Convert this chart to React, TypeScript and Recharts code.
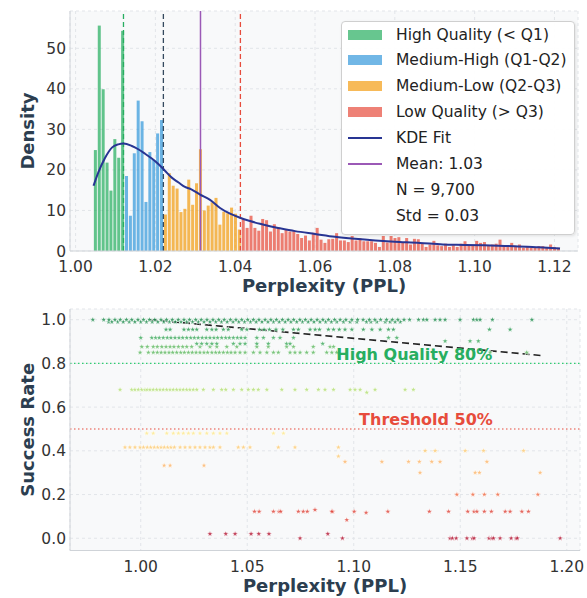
import React from 'react';
import {
  ComposedChart, Bar, Line, Scatter, XAxis, YAxis, CartesianGrid,
  ReferenceLine, ReferenceDot, Label,
} from 'recharts';

const FONT = "'Comic Sans MS', 'DejaVu Sans', sans-serif";
const TITLE_COLOR = '#2c3e50';

// ---------------- Histogram (top) ----------------
const BIN_FIRST = 1.00496;
const BIN_WIDTH = 0.000975;
const densityValues = [
  24.9, 55.6, 39.9, 21.8, 14.9, 27.6, 23.0, 54.3,
  18.5, 8.7, 24.1, 37.1, 32.0, 12.1, 24.4, 22.5, 29.0, 32.3,
  9.0, 19.2, 16.1, 15.4, 9.6, 10.4, 17.6, 11.4, 16.7, 25.1, 10.0, 11.2,
  12.0, 13.1, 6.5, 9.7, 9.3, 10.7, 9.2, 5.3,
  7.9, 5.7, 8.7, 5.7, 5.0, 7.9, 7.6, 4.8, 6.6, 5.9,
  4.4, 5.3, 4.8, 4.9, 4.2, 3.2, 3.8, 2.6, 4.5, 5.7, 2.8, 2.0, 2.9, 3.0,
  4.4, 2.6, 2.6, 2.2, 3.7, 2.6, 3.2, 2.4, 2.4, 2.4,
  2.0, 1.0, 3.7, 2.1, 3.7, 3.2, 3.4, 2.2, 3.2, 1.6, 3.0, 2.9, 1.8, 1.0,
  1.6, 2.5, 1.4, 1.2, 1.8, 1.0, 1.4, 1.0, 1.8, 2.4, 1.5,
  1.4, 2.5, 2.0, 2.2, 1.4, 1.6, 1.8, 2.8, 1.4, 1.0, 2.0, 1.0, 1.6, 0.8,
  1.0, 0.8, 1.0, 1.2, 1.2, 1.0, 1.6, 1.0, 0.8,
];
const quartileQ1 = 1.012;
const quartileMedian = 1.022;
const meanPPL = 1.0313;
const quartileQ3 = 1.0413;

const kdeX = [
  1.0045, 1.0057, 1.0074, 1.0091, 1.0107, 1.012, 1.0141, 1.0157, 1.0174, 1.0191,
  1.0208, 1.0224, 1.0241, 1.0258, 1.0274, 1.0290, 1.0312, 1.0337, 1.0362, 1.0387,
  1.0412, 1.0437, 1.0462, 1.0487, 1.0512, 1.055, 1.06, 1.065, 1.07, 1.0751,
  1.08, 1.0863, 1.092, 1.0976, 1.104, 1.1101, 1.116, 1.1214,
];
const kdeY = [
  16.1, 19.4, 23.0, 25.5, 26.3, 26.5, 25.9, 25.1, 24.0, 22.8,
  21.4, 19.8, 18.1, 16.9, 15.8, 15.2, 13.9, 12.6, 10.6, 9.2,
  8.2, 7.4, 6.7, 6.1, 5.6, 4.9, 4.2, 3.5, 3.0, 2.6,
  2.3, 2.0, 1.6, 1.5, 1.35, 1.2, 0.9, 0.6,
];
const histXTicks = [1.0, 1.02, 1.04, 1.06, 1.08, 1.1, 1.12];
const histYTicks = [0, 10, 20, 30, 40, 50];

const legendLabels = [
  'High Quality (< Q1)', 'Medium-High (Q1-Q2)', 'Medium-Low (Q2-Q3)', 'Low Quality (> Q3)',
  'KDE Fit', 'Mean: 1.03', 'N = 9,700', 'Std = 0.03',
];

// ---------------- Scatter (bottom) ----------------
const rate100 = [0.9775, 0.9826, 0.9851, 0.9879, 0.9904, 0.9933, 0.9958, 0.9987, 1.0013, 1.0041, 1.0066, 1.0095, 1.0121, 1.0148, 1.0176, 1.0203, 1.0229, 1.0258, 1.0284, 1.0311, 1.0339, 1.0366, 1.0392, 1.0421, 1.0447, 1.0474, 1.0502, 1.0529, 1.0555, 1.0584, 1.0611, 1.0637, 1.0665, 1.0692, 1.0718, 1.0747, 1.0773, 1.08, 1.0828, 1.0855, 1.0881, 1.091, 1.0936, 1.0963, 1.0991, 1.1018, 1.1044, 1.1073, 1.1099, 1.1126, 1.1154, 1.1181, 1.1207, 1.1236, 1.1262, 1.1304, 1.1327, 1.1343, 1.1382, 1.1405, 1.1429, 1.1499, 1.1562, 1.1578, 1.1593, 1.1651, 1.1836];
const rate099 = [0.9849, 0.9864, 0.9892, 0.9918, 0.9946, 0.9972, 1.0, 1.0027, 1.0054, 1.008, 1.0108, 1.0135, 1.0162, 1.0189, 1.0216, 1.0243, 1.027, 1.0297, 1.0325, 1.0352, 1.0379, 1.0406, 1.0433, 1.046, 1.0487, 1.0515, 1.0542, 1.0569, 1.0597, 1.0623, 1.065, 1.0678, 1.0705, 1.0732, 1.0759, 1.0786, 1.0813, 1.0841, 1.0868, 1.0895, 1.092, 1.0952, 1.0983, 1.1014, 1.106, 1.108, 1.1108, 1.1148, 1.1171, 1.1194, 1.1218];
const rate0955 = [1.0119, 1.0138, 1.0203, 1.0224, 1.0244, 1.0263, 1.031, 1.0334, 1.0354, 1.0388, 1.0411, 1.0474, 1.0498, 1.0557, 1.0579, 1.0604, 1.0635, 1.0667, 1.0717, 1.074, 1.0795, 1.0819, 1.0839, 1.0881, 1.0905, 1.0932, 1.0959, 1.0991, 1.1045, 1.1085, 1.1124, 1.1163, 1.1186, 1.1637, 1.1734];
const rate0917 = [1.0, 1.0052, 1.007, 1.0087, 1.0106, 1.0125, 1.0142, 1.0161, 1.018, 1.0197, 1.0216, 1.0235, 1.0252, 1.027, 1.0289, 1.0307, 1.0325, 1.0344, 1.0361, 1.038, 1.0399, 1.0416, 1.0435, 1.0454, 1.0471, 1.049, 1.0545, 1.0576, 1.0623, 1.0654, 1.0717, 1.1163, 1.1202];
const rate0902 = [1.1429, 1.1546, 1.1585];
const rate089 = [1.0263, 1.0286, 1.031, 1.0334, 1.0357, 1.0435, 1.0466, 1.049, 1.0545, 1.0599, 1.0685, 1.0701, 1.0854];
const rate0876 = [1.0005, 1.0031, 1.0059, 1.0078, 1.0099, 1.0119, 1.0138, 1.0156, 1.0177, 1.0197, 1.0216, 1.0239, 1.0278, 1.0325, 1.0357, 1.0404, 1.0451, 1.0545, 1.0599, 1.0685, 1.0717, 1.081, 1.0889, 1.0905];
const rate085 = [0.9997, 1.0036, 1.0059, 1.0078, 1.0096, 1.0114, 1.0133, 1.015, 1.0169, 1.0188, 1.0205, 1.0224, 1.0242, 1.026, 1.0278, 1.0297, 1.0314, 1.0334, 1.0352, 1.0369, 1.0388, 1.0407, 1.0424, 1.0443, 1.0466, 1.049, 1.0529, 1.056, 1.0592, 1.0623, 1.0646, 1.0701, 1.0724, 1.0748, 1.0779, 1.081, 1.0873, 1.0897, 1.092, 1.164, 1.1812];
const rate068 = [0.9903, 0.9958, 0.9973, 0.9989, 1.0005, 1.002, 1.0031, 1.0044, 1.0059, 1.0075, 1.0091, 1.0106, 1.0122, 1.0138, 1.0153, 1.0169, 1.0185, 1.02, 1.0216, 1.0231, 1.0247, 1.0263, 1.0294, 1.0341, 1.038, 1.0399, 1.0435, 1.0474, 1.0505, 1.0529, 1.0552, 1.0592, 1.0662, 1.0724, 1.0779, 1.0834, 1.0865, 1.0905, 1.0983, 1.1006, 1.103, 1.11, 1.1241, 1.128];
const rate0667 = [1.1061];
const rate048 = [1.0028, 1.0059, 1.0122, 1.0153, 1.0177, 1.02, 1.0224, 1.0247, 1.0278, 1.031, 1.0341, 1.0372, 1.0404, 1.0623, 1.067];
const rate0416 = [0.9926, 0.9949, 0.9973, 0.9997, 1.0013, 1.0031, 1.0047, 1.0064, 1.008, 1.0096, 1.0111, 1.0127, 1.0142, 1.0158, 1.0185, 1.0208, 1.0231, 1.0255, 1.0278, 1.0302, 1.0325, 1.0341, 1.0372, 1.0458, 1.0482, 1.0513, 1.0646, 1.0724, 1.0928];
const rate040 = [1.1335, 1.1382, 1.1523, 1.1609, 1.1797];
const rate0375 = [1.0928];
const rate035 = [1.0959, 1.1132, 1.1257, 1.1308, 1.1366, 1.1405, 1.1625];
const rate0333 = [1.011, 1.0138, 1.0297];
const rate030 = [1.1311, 1.157, 1.159, 1.1875];
const rate020 = [1.1484, 1.1559, 1.1613, 1.1676, 1.1864];
const rate013 = [1.0818];
const rate0122 = [1.0534, 1.0556, 1.0623, 1.0649, 1.0657, 1.074, 1.0763, 1.0782, 1.0901, 1.0897, 1.1002, 1.116, 1.1355, 1.1445, 1.1535, 1.1565, 1.1578, 1.1613, 1.1646, 1.1711, 1.1734, 1.1789, 1.182];
const rate0117 = [1.1058];
const rate0084 = [1.0967];
const rate002 = [1.0325, 1.0399, 1.0443, 1.0518, 1.0554, 1.0602, 1.0878];
const rate000 = [1.0748, 1.0947, 1.1452, 1.1463, 1.1481, 1.1531, 1.1557, 1.1565, 1.1635, 1.1648, 1.1656, 1.1687, 1.1739, 1.1762, 1.1768, 1.1969];

const scatterRows: [number, number[]][] = [
  [0.48, rate048], [0.416, rate0416], [0.40, rate040], [0.375, rate0375], [0.35, rate035],
  [0.333, rate0333], [0.30, rate030], [0.20, rate020], [0.13, rate013], [0.122, rate0122],
  [0.117, rate0117], [0.084, rate0084], [0.02, rate002], [0.0, rate000],
  [0.68, rate068], [0.667, rate0667],
  [0.85, rate085], [0.876, rate0876], [0.89, rate089], [0.902, rate0902], [0.917, rate0917],
  [0.955, rate0955], [0.99, rate099], [1.0, rate100],
];

const trendX = [1.0044, 1.1883];
const trendY = [1.0, 0.836];
const highQualityLine = 0.8;
const thresholdLine = 0.5;
const scatterXTicks = [1.0, 1.05, 1.1, 1.15, 1.2];
const scatterYTicks = [0, 0.2, 0.4, 0.6, 0.8, 1.0];

// ---------------- styles ----------------
const QUALITY_COLORS = ['#27ae60', '#3498db', '#f39c12', '#e74c3c'];

function rateColor(r: number): string {
  if (r >= 0.97) return '#1a8a4a';
  if (r >= 0.94) return '#25994f';
  if (r >= 0.88) return '#3aa85a';
  if (r >= 0.84) return '#5cb85f';
  if (r >= 0.6) return '#b3df72';
  if (r >= 0.45) return '#fde98f';
  if (r >= 0.37) return '#fdcb72';
  if (r >= 0.28) return '#fdb466';
  if (r >= 0.17) return '#f26d45';
  if (r >= 0.07) return '#e0453a';
  return '#b3122f';
}

function starPath(cx: number, cy: number, R: number) {
  const r = R * 0.42;
  let d = '';
  for (let i = 0; i < 10; i++) {
    const a = -Math.PI / 2 + (i * Math.PI) / 5;
    const rad = i % 2 === 0 ? R : r;
    d += (i === 0 ? 'M' : 'L') + (cx + rad * Math.cos(a)).toFixed(2) + ' ' + (cy + rad * Math.sin(a)).toFixed(2);
  }
  return d + 'Z';
}

const makeStar = (color: string) => (props: any) => {
  const { cx, cy } = props;
  if (cx == null || cy == null) return <g />;
  return (
    <path d={starPath(cx, cy, 3.0)} fill={color} fillOpacity={0.8} stroke="#ffffff" strokeOpacity={0.8} strokeWidth={0.6} />
  );
};

const histData = densityValues.map((v, i) => ({ x: BIN_FIRST + i * BIN_WIDTH, y: v }));
const kdeData = kdeX.map((x, i) => ({ x, y: kdeY[i] }));
const trendData = trendX.map((x, i) => ({ x, y: trendY[i] }));

function binColor(x: number) {
  if (x < quartileQ1) return QUALITY_COLORS[0];
  if (x < quartileMedian) return QUALITY_COLORS[1];
  if (x < quartileQ3) return QUALITY_COLORS[2];
  return QUALITY_COLORS[3];
}

// bar drawn centred on the bin position that Recharts computed
const HistBarShape = (props: any) => {
  const { x, y, width, height, payload } = props;
  if (x == null || y == null || !height) return <g />;
  const cx = x + (width || 0) / 2;
  const w = 3.0;
  return (
    <rect x={cx - w / 2} y={y} width={w} height={Math.max(height, 0)} fill={binColor(payload.x)} fillOpacity={0.72} />
  );
};

const tickStyle = { fontSize: 15.5, fill: '#333', fontFamily: FONT };

const xTitle = (text: string) => (props: any) => {
  const vb = props.viewBox || {};
  const cx = (vb.x ?? 70) + (vb.width ?? 508) / 2;
  const y = (vb.y ?? 251) + 41;
  return (
    <text x={cx} y={y} textAnchor="middle" fontSize={18} fontWeight="bold" fill={TITLE_COLOR} fontFamily={FONT}>
      {text}
    </text>
  );
};

const yTitle = (text: string) => (props: any) => {
  const vb = props.viewBox || {};
  const cx = (vb.x ?? 0) + 27;
  const cy = (vb.y ?? 0) + (vb.height ?? 0) / 2;
  return (
    <text x={cx} y={cy} transform={`rotate(-90 ${cx} ${cy})`} textAnchor="middle" dominantBaseline="central"
      fontSize={18} fontWeight="bold" fill={TITLE_COLOR} fontFamily={FONT}>
      {text}
    </text>
  );
};

function HistLegend() {
  const swatches: (null | { kind: 'patch' | 'line'; color: string; w: number })[] = [
    { kind: 'patch', color: QUALITY_COLORS[0], w: 10 },
    { kind: 'patch', color: QUALITY_COLORS[1], w: 10 },
    { kind: 'patch', color: QUALITY_COLORS[2], w: 10 },
    { kind: 'patch', color: QUALITY_COLORS[3], w: 10 },
    { kind: 'line', color: '#283593', w: 2 },
    { kind: 'line', color: '#9b59b6', w: 1.5 },
    null,
    null,
  ];
  return (
    <div style={{
      position: 'absolute', left: 341, top: 21, width: 234, height: 214, boxSizing: 'border-box',
      background: 'rgba(255,255,255,0.95)', border: '1px solid #cfcfcf', borderRadius: 4,
      boxShadow: '1px 1px 3px rgba(0,0,0,0.10)', fontFamily: FONT, fontSize: 15.5, color: '#222',
    }}>
      {legendLabels.map((label, i) => {
        const sw = swatches[i];
        const center = 12.5 + i * 25.9;
        return (
          <div key={label} style={{ position: 'absolute', left: 0, top: center - 11, height: 22, width: '100%' }}>
            {sw && (
              <div style={{
                position: 'absolute', left: 6, top: 11 - sw.w / 2, width: 34, height: sw.w,
                background: sw.color, opacity: sw.kind === 'patch' ? 0.7 : 1,
              }} />
            )}
            <div style={{ position: 'absolute', left: 54, top: 0, height: 22, lineHeight: '22px', whiteSpace: 'nowrap' }}>
              {label}
            </div>
          </div>
        );
      })}
    </div>
  );
}

export default function App() {
  return (
    <div style={{ position: 'absolute', left: 0, top: 0, width: 587, height: 598, background: '#ffffff', overflow: 'hidden' }}>
      <div style={{ position: 'absolute', left: 0, top: 0 }}>
        <ComposedChart width={587} height={300} data={histData} margin={{ top: 11, right: 9, bottom: 0, left: 0 }}>
          <CartesianGrid fill="#f8f9fa" stroke="#e2e5e9" strokeDasharray="3 3" />
          <XAxis type="number" dataKey="x" domain={[0.9986, 1.1259]} allowDataOverflow ticks={histXTicks}
            tickFormatter={(v: number) => v.toFixed(2)} height={49} tick={tickStyle} tickLine={false}
            tickSize={6} tickMargin={4} axisLine={{ stroke: '#cfd3d8' }}>
            <Label content={xTitle('Perplexity (PPL)')} />
          </XAxis>
          <YAxis type="number" dataKey="y" domain={[0, 59.2]} allowDataOverflow ticks={histYTicks} width={70}
            tick={tickStyle} tickLine={false} tickSize={2} tickMargin={2} axisLine={{ stroke: '#cfd3d8' }}>
            <Label content={yTitle('Density')} />
          </YAxis>
          <Bar dataKey="y" shape={HistBarShape} isAnimationActive={false} />
          <ReferenceLine x={quartileQ1} stroke="#27ae60" strokeWidth={1.3} strokeDasharray="5 3" />
          <ReferenceLine x={quartileMedian} stroke="#34495e" strokeWidth={1.3} strokeDasharray="5 3" />
          <ReferenceLine x={meanPPL} stroke="#9b59b6" strokeWidth={1.5} />
          <ReferenceLine x={quartileQ3} stroke="#e74c3c" strokeWidth={1.3} strokeDasharray="5 3" />
          <Line data={kdeData} dataKey="y" type="monotone" stroke="#283593" strokeWidth={2} dot={false}
            isAnimationActive={false} />
        </ComposedChart>
      </div>
      <HistLegend />
      <div style={{ position: 'absolute', left: 0, top: 300 }}>
        <ComposedChart width={587} height={298} margin={{ top: 9, right: 7, bottom: 0, left: 0 }}>
          <CartesianGrid fill="#f8f9fa" stroke="#e2e5e9" strokeDasharray="3 3" />
          <XAxis type="number" dataKey="x" domain={[0.9668, 1.2062]} allowDataOverflow ticks={scatterXTicks}
            tickFormatter={(v: number) => v.toFixed(2)} height={47.5} tick={tickStyle} tickLine={false}
            tickSize={6} tickMargin={4} axisLine={{ stroke: '#cfd3d8' }}>
            <Label content={xTitle('Perplexity (PPL)')} />
          </XAxis>
          <YAxis type="number" dataKey="y" domain={[-0.056, 1.049]} allowDataOverflow ticks={scatterYTicks} width={70}
            tickFormatter={(v: number) => v.toFixed(1)} tick={tickStyle} tickLine={false} tickSize={2} tickMargin={2}
            axisLine={{ stroke: '#cfd3d8' }}>
            <Label content={yTitle('Success Rate')} />
          </YAxis>
          <ReferenceLine y={highQualityLine} stroke="#2ecc71" strokeWidth={1.2} strokeDasharray="1.5 2.5" />
          <ReferenceLine y={thresholdLine} stroke="#e74c3c" strokeWidth={1.2} strokeDasharray="1.5 2.5" />
          {scatterRows.map(([rate, xs]) => (
            <Scatter key={String(rate)} data={xs.map((x) => ({ x, y: rate }))} dataKey="y"
              shape={makeStar(rateColor(rate))} isAnimationActive={false} />
          ))}
          <Line data={trendData} dataKey="y" type="linear" stroke="#222" strokeWidth={1.6} strokeDasharray="7 4"
            dot={false} isAnimationActive={false} />
          <ReferenceDot x={1.1284} y={0.842} r={1} shape={() => <g />}
            label={{ value: 'High Quality 80%', position: 'center', fill: '#27ae60', fontSize: 16, fontWeight: 'bold', fontFamily: FONT }} />
          <ReferenceDot x={1.1339} y={0.544} r={1} shape={() => <g />}
            label={{ value: 'Threshold 50%', position: 'center', fill: '#e74c3c', fontSize: 16, fontWeight: 'bold', fontFamily: FONT }} />
        </ComposedChart>
      </div>
    </div>
  );
}
